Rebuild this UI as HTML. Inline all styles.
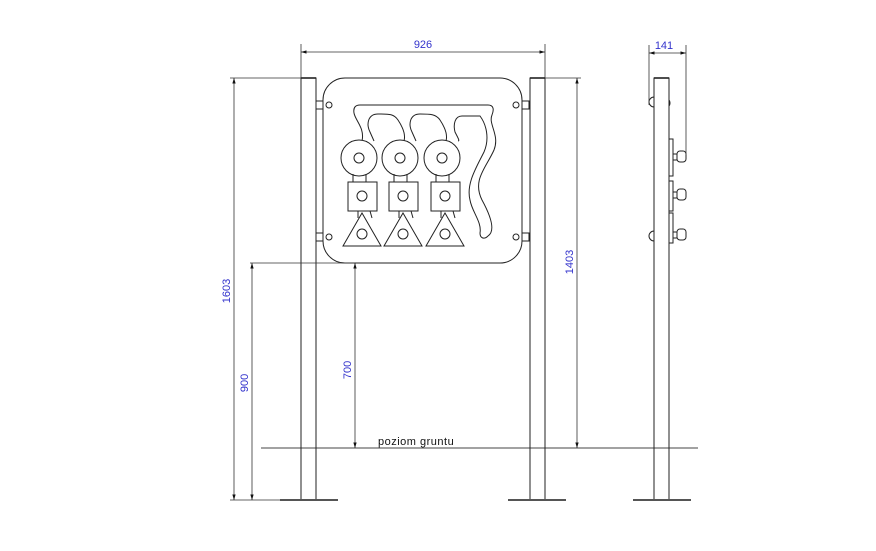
<!DOCTYPE html><html><head><style>body{margin:0;background:#fff}svg{display:block}</style></head><body>
<svg width="876" height="551" viewBox="0 0 876 551" xmlns="http://www.w3.org/2000/svg" fill="none" stroke="#222" stroke-width="1">
<defs><marker id="a" viewBox="0 0 10 10" refX="10" refY="5" markerWidth="7" markerHeight="7" orient="auto-start-reverse"><path d="M0,2 L10,5 L0,8z" fill="#111" stroke="none"/></marker></defs>
<!-- ground -->
<line x1="261" y1="448" x2="698" y2="448" stroke="#444"/>
<!-- posts -->
<rect x="301" y="78" width="15" height="422"/>
<rect x="530" y="78" width="15" height="422"/>
<rect x="654" y="78" width="15" height="422"/>
<line x1="301" y1="78" x2="316" y2="78" stroke-width="1.6"/>
<line x1="530" y1="78" x2="545" y2="78" stroke-width="1.6"/>
<line x1="654" y1="78" x2="669" y2="78" stroke-width="1.6"/>
<g stroke="#555" stroke-width="2"><line x1="280" y1="500" x2="338" y2="500"/><line x1="508" y1="500" x2="566" y2="500"/><line x1="633" y1="500" x2="691" y2="500"/></g>
<!-- panel -->
<rect x="323" y="78" width="199" height="185" rx="22" fill="#fff"/>
<g><rect x="316" y="101" width="7" height="8"/><rect x="316" y="233" width="7" height="8"/><rect x="522" y="101" width="7" height="8"/><rect x="522" y="233" width="7" height="8"/></g>
<circle cx="329" cy="105" r="3"/><circle cx="516" cy="105" r="3"/><circle cx="329" cy="237" r="3"/><circle cx="516" cy="237" r="3"/>
<!-- tracks -->
<path d="M362,141 C365,128 355,120 354,113 C353,107 356,105 360,105 L488,105 C494,105 494,110 492,115 C488,124 500,135 494,150 C486,168 472,180 482,200 C494,222 494,232 488,236 C484,240 480,238 480,233 C482,222 472,212 470,200 C466,184 476,168 484,152 C490,138 486,124 480,116 L462,116 C455,116 453,124 455,132 C458,138 460,141 458,141 M446,141 C448,134 444,126 440,120 C436,114 430,114 420,114 C410,114 408,124 412,132 L416,141 M404,141 C406,134 402,126 398,120 C394,114 390,114 378,114 C368,114 366,124 370,132 L374,141"/>
<g>
<circle cx="359" cy="158" r="18" fill="#fff"/><circle cx="359" cy="158" r="5"/>
<circle cx="400" cy="158" r="18" fill="#fff"/><circle cx="400" cy="158" r="5"/>
<circle cx="442" cy="158" r="18" fill="#fff"/><circle cx="442" cy="158" r="5"/>
<path d="M353,174 L353,182 M366,174 L366,182 M394,174 L394,182 M407,174 L407,182 M436,174 L436,182 M449,174 L449,182"/>
<rect x="348" y="182" width="29" height="29" fill="#fff"/><circle cx="362" cy="196" r="5"/>
<rect x="389" y="182" width="29" height="29" fill="#fff"/><circle cx="403" cy="196" r="5"/>
<rect x="431" y="182" width="29" height="29" fill="#fff"/><circle cx="445" cy="196" r="5"/>
<path d="M358,211 L358,218 M370,211 L372,218 M399,211 L399,218 M411,211 L413,218 M441,211 L441,218 M453,211 L455,218"/>
<path d="M362,213 L381,246 L343,246Z" fill="#fff"/><circle cx="362" cy="234" r="5"/>
<path d="M403,213 L422,246 L384,246Z" fill="#fff"/><circle cx="403" cy="234" r="5"/>
<path d="M445,213 L464,246 L426,246Z" fill="#fff"/><circle cx="445" cy="234" r="5"/>
</g>
<!-- side view details -->
<path d="M654,97 A5,5 0 0 0 654,107 M654,231 A5,5 0 0 0 654,241"/>
<path d="M669,100 A3,4 0 0 1 669,106"/>
<rect x="669" y="139" width="4" height="37"/><rect x="669" y="181" width="4" height="30"/><rect x="669" y="213" width="4" height="30"/>
<g><rect x="673" y="154" width="4" height="6"/><rect x="677" y="151" width="9" height="11" rx="3"/>
<rect x="673" y="192" width="4" height="6"/><rect x="677" y="189" width="9" height="11" rx="3"/>
<rect x="673" y="232" width="4" height="6"/><rect x="677" y="229" width="9" height="11" rx="3"/></g>
<!-- dims -->
<g stroke="#333" stroke-width="0.8">
<line x1="301" y1="44" x2="301" y2="78"/><line x1="545" y1="44" x2="545" y2="78"/>
<line x1="301" y1="52" x2="545" y2="52" marker-start="url(#a)" marker-end="url(#a)"/>
<line x1="649" y1="45" x2="649" y2="105"/><line x1="686" y1="45" x2="686" y2="155"/>
<line x1="649" y1="53" x2="686" y2="53" marker-start="url(#a)" marker-end="url(#a)"/>
<line x1="230" y1="78" x2="301" y2="78"/><line x1="545" y1="78" x2="581" y2="78"/>
<line x1="234" y1="78" x2="234" y2="500" marker-start="url(#a)" marker-end="url(#a)"/>
<line x1="230" y1="500" x2="280" y2="500"/>
<line x1="250" y1="263" x2="355" y2="263"/>
<line x1="252" y1="263" x2="252" y2="500" marker-start="url(#a)" marker-end="url(#a)"/>
<line x1="355" y1="263" x2="355" y2="448" marker-start="url(#a)" marker-end="url(#a)"/>
<line x1="577" y1="78" x2="577" y2="448" marker-start="url(#a)" marker-end="url(#a)"/>
</g>
<g fill="#33c" stroke="none" font-family="Liberation Sans, sans-serif" font-size="11">
<text x="423" y="48" text-anchor="middle">926</text>
<text x="664" y="49" text-anchor="middle">141</text>
<text transform="translate(230,291) rotate(-90)" text-anchor="middle">1603</text>
<text transform="translate(248,383) rotate(-90)" text-anchor="middle">900</text>
<text transform="translate(351,370) rotate(-90)" text-anchor="middle">700</text>
<text transform="translate(573,262) rotate(-90)" text-anchor="middle">1403</text>
</g>
<text x="378" y="445" fill="#111" stroke="none" font-family="Liberation Sans, sans-serif" font-size="11" letter-spacing="0.5">poziom gruntu</text>
</svg>
</body></html>
